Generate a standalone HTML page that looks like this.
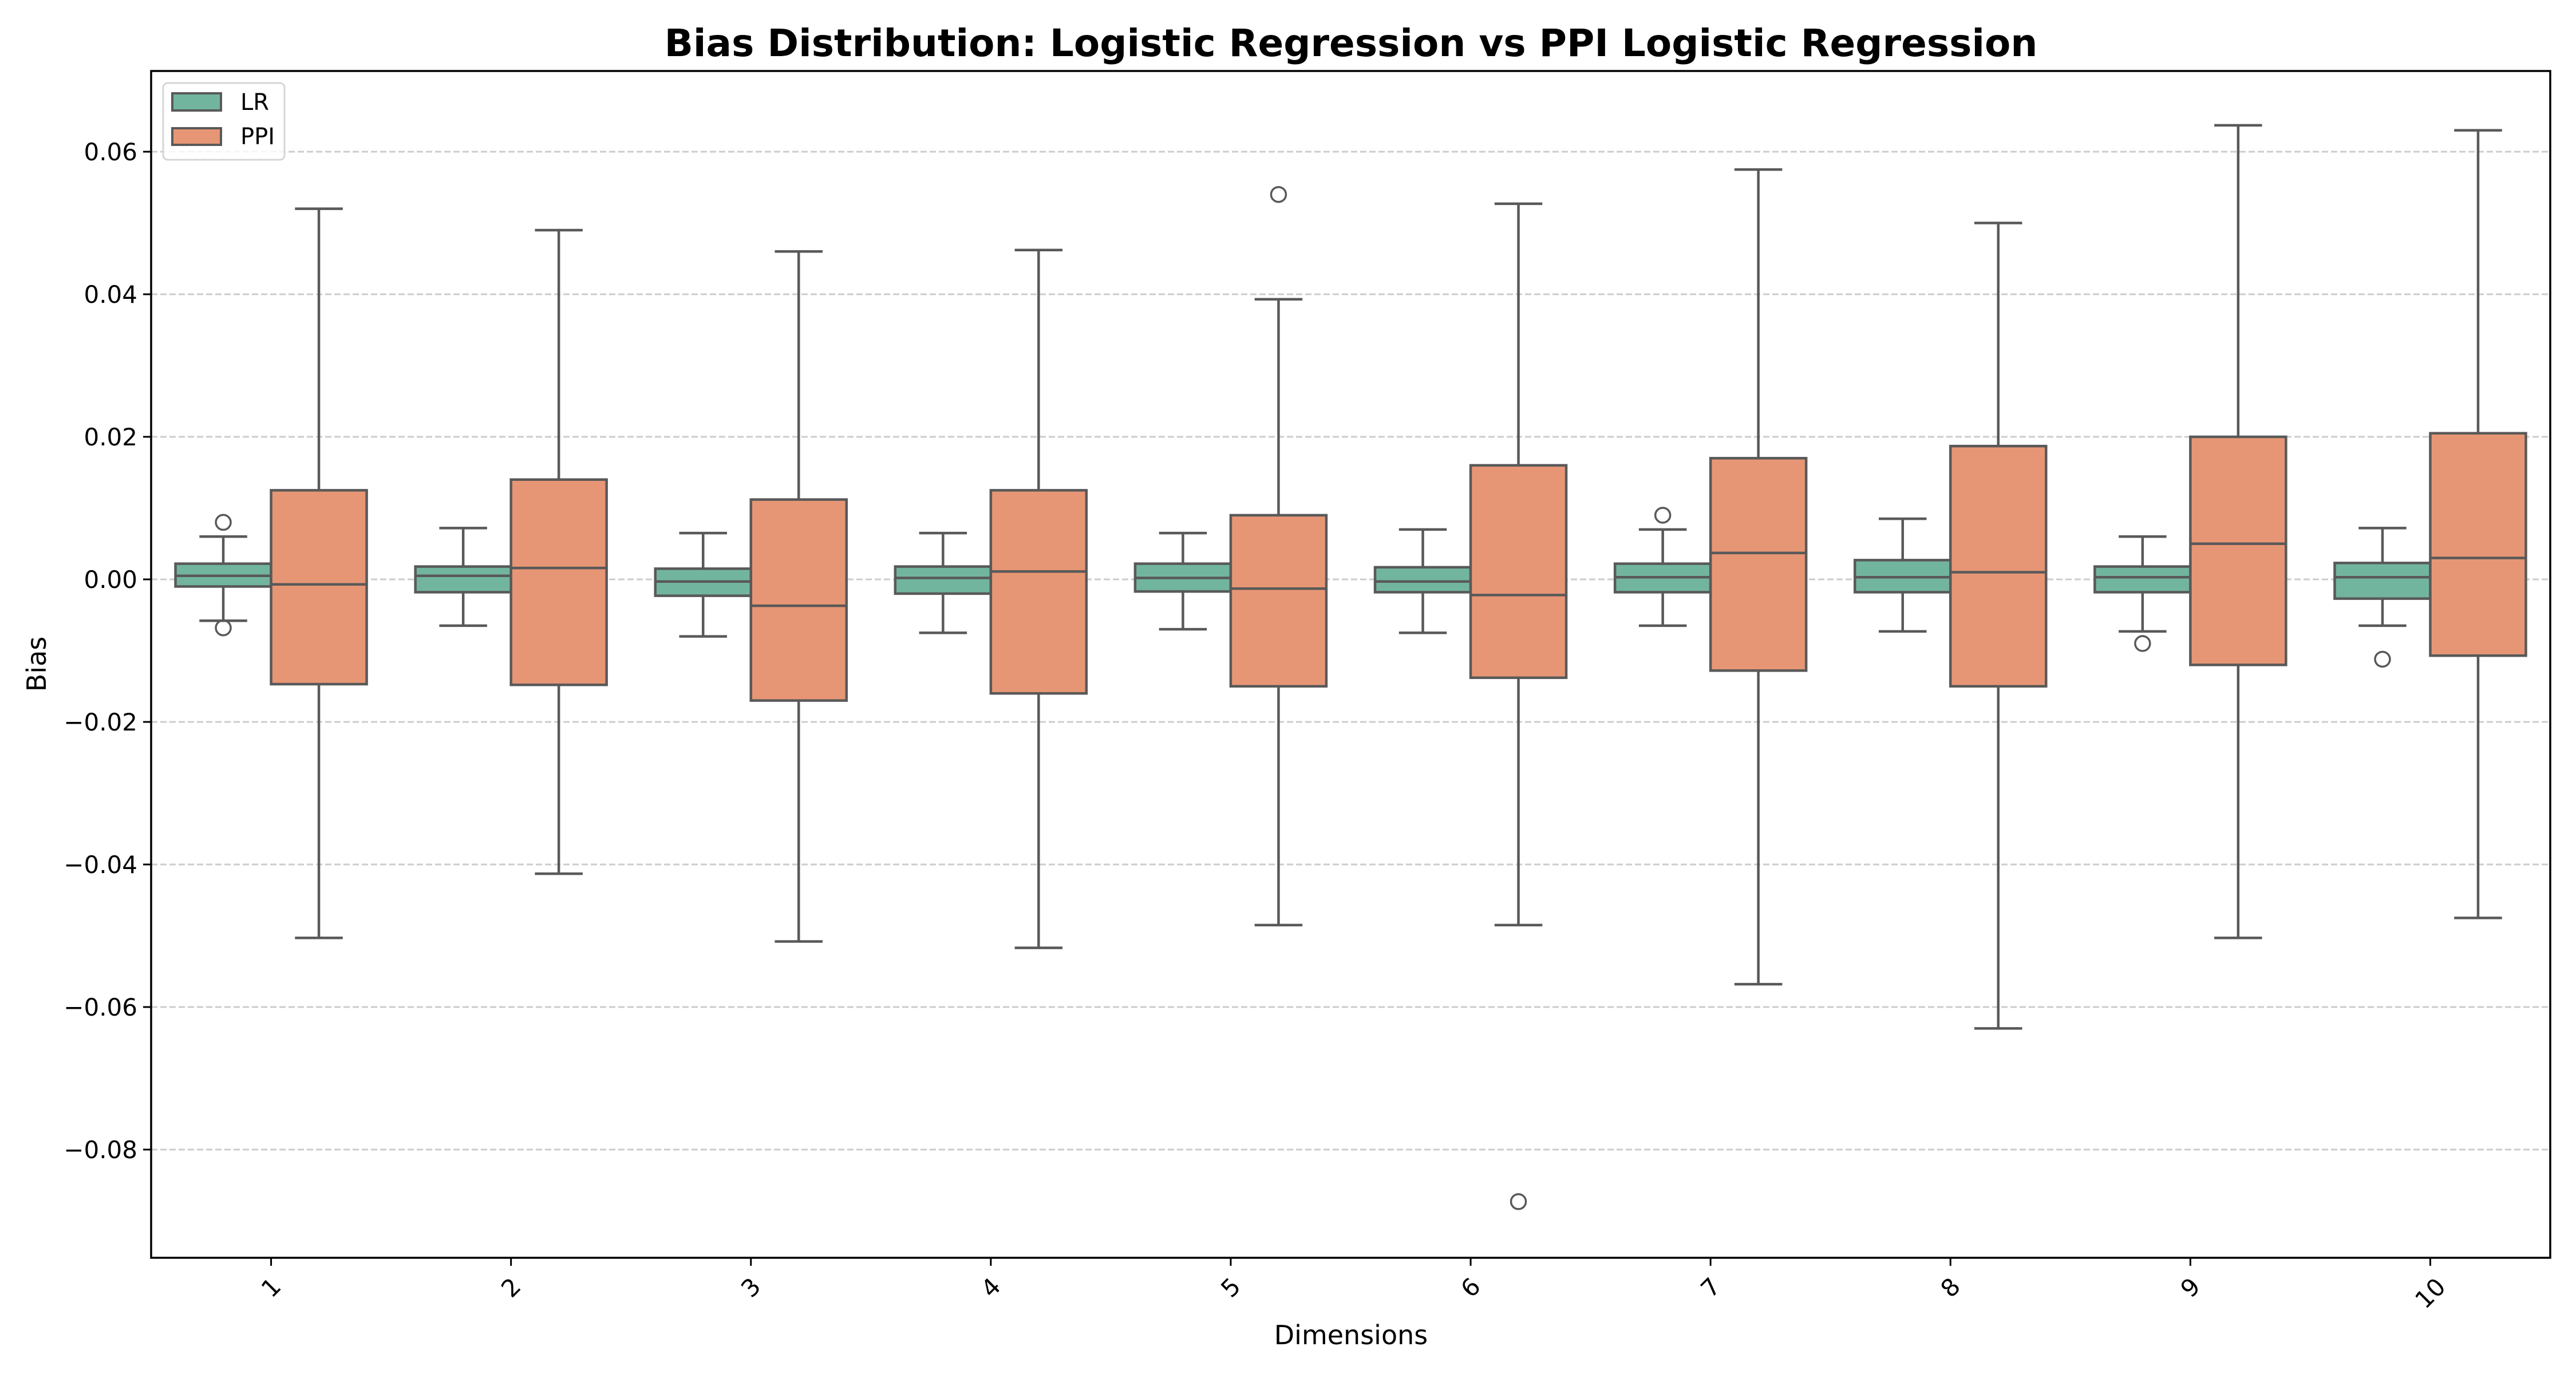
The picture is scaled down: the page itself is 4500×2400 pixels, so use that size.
<!DOCTYPE html>
<html><head><meta charset="utf-8"><style>
html,body{margin:0;padding:0;background:#fff}
svg{display:block;font-family:"DejaVu Sans","Liberation Sans",sans-serif}
</style></head><body>
<svg id="chart" xmlns="http://www.w3.org/2000/svg" width="4500" height="2400" viewBox="0 0 4500 2400">
<rect x="0" y="0" width="4500" height="2400" fill="#fff"/>
<text x="2360" y="98" text-anchor="middle" font-size="66" font-weight="bold">Bias Distribution: Logistic Regression vs PPI Logistic Regression</text>
<g id="grid"></g>
<g id="marks"></g>
<g id="axes"></g>
<text x="2360" y="2348" text-anchor="middle" font-size="46">Dimensions</text>
<text x="0" y="0" transform="translate(80,1160) rotate(-90)" text-anchor="middle" font-size="46">Bias</text>
<g>
<rect x="285" y="145" width="212" height="134" rx="8" fill="#fff" fill-opacity="0.8" stroke="#d6d6d6" stroke-width="3"/>
<rect x="301" y="163" width="85" height="30" fill="#72b59f" stroke="#595959" stroke-width="4"/>
<text x="420" y="192" font-size="40">LR</text>
<rect x="301" y="224" width="85" height="29" fill="#e79675" stroke="#595959" stroke-width="4"/>
<text x="420" y="252" font-size="40">PPI</text>
</g>
</svg>
<script>
const categories = ["1","2","3","4","5","6","7","8","9","10"];
const lrQ1 = [-0.0010,-0.0018,-0.0023,-0.0020,-0.0017,-0.0018,-0.0018,-0.0018,-0.0018,-0.0027];
const lrMed = [0.0005,0.0005,-0.0003,0.0002,0.0002,-0.0003,0.0003,0.0003,0.0003,0.0003];
const lrQ3 = [0.0022,0.0018,0.0015,0.0018,0.0022,0.0017,0.0022,0.0027,0.0018,0.0023];
const lrLo = [-0.0058,-0.0065,-0.0080,-0.0075,-0.0070,-0.0075,-0.0065,-0.0073,-0.0073,-0.0065];
const lrHi = [0.0060,0.0072,0.0065,0.0065,0.0065,0.0070,0.0070,0.0085,0.0060,0.0072];
const lrOut = [[0.0080,-0.0068],[],[],[],[],[],[0.0090],[],[-0.0090],[-0.0112]];
const ppiQ1 = [-0.0147,-0.0148,-0.0170,-0.0160,-0.0150,-0.0138,-0.0128,-0.0150,-0.0120,-0.0107];
const ppiMed = [-0.0007,0.0016,-0.0037,0.0011,-0.0013,-0.0022,0.0037,0.0010,0.0050,0.0030];
const ppiQ3 = [0.0125,0.0140,0.0112,0.0125,0.0090,0.0160,0.0170,0.0187,0.0200,0.0205];
const ppiLo = [-0.0503,-0.0413,-0.0508,-0.0517,-0.0485,-0.0485,-0.0568,-0.0630,-0.0503,-0.0475];
const ppiHi = [0.0520,0.0490,0.0460,0.0462,0.0393,0.0527,0.0575,0.0500,0.0637,0.0630];
const ppiOut = [[],[],[],[],[0.0540],[-0.0873],[],[],[],[]];
const yTicks = [-0.08,-0.06,-0.04,-0.02,0.00,0.02,0.04,0.06];
const yTickLabels = ["\u22120.08","\u22120.06","\u22120.04","\u22120.02","0.00","0.02","0.04","0.06"];

const NS="http://www.w3.org/2000/svg";
const L=264,R=4455,T=124,B=2197;
const step=(R-L)/categories.length;
function xPos(i){return L+step*(i+0.5);}
function yPos(v){return 1012-v*12450;}
function mk(tag,attrs,parent){const e=document.createElementNS(NS,tag);for(const k in attrs)e.setAttribute(k,attrs[k]);parent.appendChild(e);return e;}
const grid=document.getElementById('grid'),marks=document.getElementById('marks'),axes=document.getElementById('axes');

yTicks.forEach((v,i)=>{
  const y=yPos(v);
  const g=mk('line',{x1:L,x2:R,y1:y,y2:y,stroke:'#cccccc','stroke-width':3,'stroke-dasharray':'11 5'},grid);
  
  
  const t=mk('line',{x1:L-14,x2:L,y1:y,y2:y,stroke:'#000','stroke-width':3},axes);
  
  
  const tx=mk('text',{x:L-24,y:y+15,'text-anchor':'end','font-size':42},axes);
  tx.textContent=yTickLabels[i];
  
  
});

const bw=167, cap=bw/2, sc='#595959', sw=4.5;
function box(cx,q1,med,q3,lo,hi,outs,fill,name){
  const g=mk('g',{},marks);
  
  
  mk('line',{x1:cx,x2:cx,y1:yPos(q3),y2:yPos(hi),stroke:sc,'stroke-width':sw},g);
  mk('line',{x1:cx,x2:cx,y1:yPos(q1),y2:yPos(lo),stroke:sc,'stroke-width':sw},g);
  mk('line',{x1:cx-cap/2,x2:cx+cap/2,y1:yPos(hi),y2:yPos(hi),stroke:sc,'stroke-width':sw},g);
  mk('line',{x1:cx-cap/2,x2:cx+cap/2,y1:yPos(lo),y2:yPos(lo),stroke:sc,'stroke-width':sw},g);
  mk('rect',{x:cx-bw/2,y:yPos(q3),width:bw,height:yPos(q1)-yPos(q3),fill:fill,stroke:sc,'stroke-width':sw},g);
  mk('line',{x1:cx-bw/2,x2:cx+bw/2,y1:yPos(med),y2:yPos(med),stroke:sc,'stroke-width':sw},g);
  outs.forEach(o=>{mk('ellipse',{cx:cx,cy:yPos(o),rx:13,ry:13,fill:'none',stroke:sc,'stroke-width':3.5},g);});
}
categories.forEach((c,i)=>{
  const x=xPos(i);
  box(x-bw/2,lrQ1[i],lrMed[i],lrQ3[i],lrLo[i],lrHi[i],lrOut[i],'#72b59f','lr-box-dim-'+c);
  box(x+bw/2,ppiQ1[i],ppiMed[i],ppiQ3[i],ppiLo[i],ppiHi[i],ppiOut[i],'#e79675','ppi-box-dim-'+c);
  const t=mk('line',{x1:x,x2:x,y1:B,y2:B+14,stroke:'#000','stroke-width':3},axes);
  
  
  const tx=mk('text',{x:0,y:0,'text-anchor':'middle','dominant-baseline':'central','font-size':42,transform:'translate('+x+','+(B+(c.length>1?62:52))+') rotate(-45)'},axes);
  tx.textContent=c;
  
  
});
const fr=mk('rect',{x:L,y:T,width:R-L,height:B-T,fill:'none',stroke:'#000','stroke-width':3.5},axes);


</script>
</body></html>
